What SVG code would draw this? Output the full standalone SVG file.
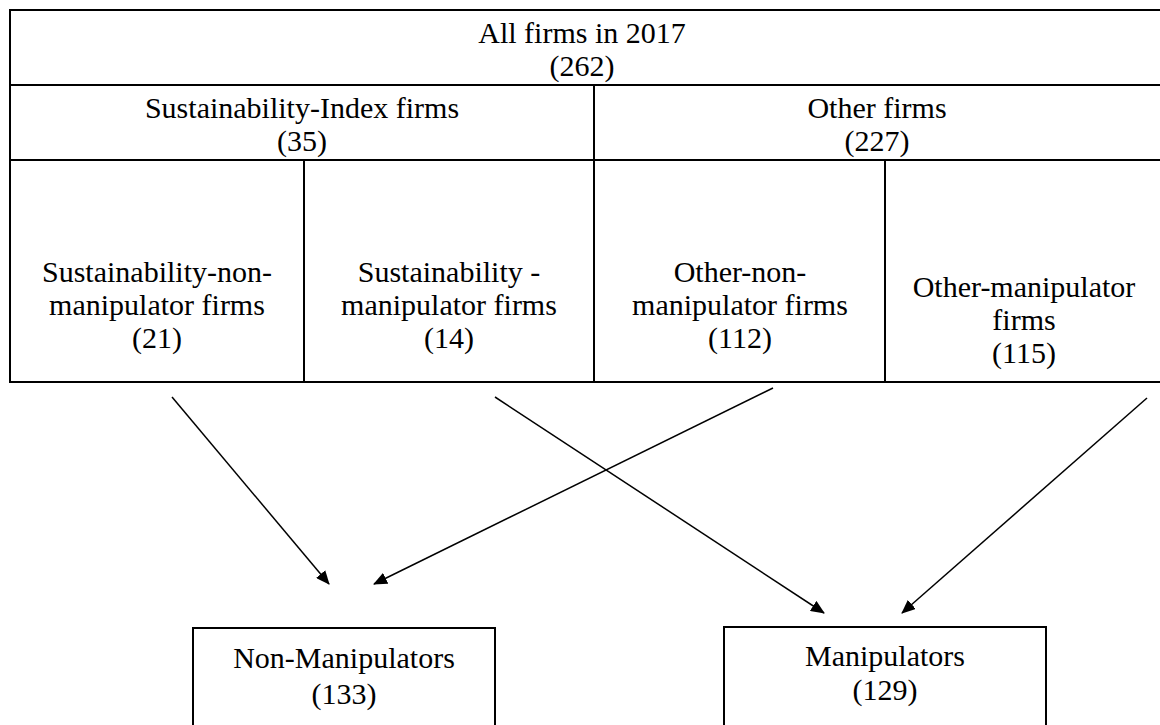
<svg xmlns="http://www.w3.org/2000/svg" width="1160" height="725" viewBox="0 0 1160 725">
<defs>
<style>
.t{font-family:"Liberation Serif","Times New Roman",serif;font-size:30px;fill:#000;text-anchor:middle}
.b{fill:none;stroke:#000;stroke-width:2}
.c{stroke:#000;stroke-width:1.5;fill:none}
</style>
<marker id="ah" markerWidth="14" markerHeight="12" refX="13" refY="6" orient="auto" markerUnits="userSpaceOnUse">
<path d="M0,0 L14,6 L0,12 Z" fill="#000"/>
</marker>
</defs>
<rect width="1160" height="725" fill="#fff"/>
<g id="all-firms">
<path class="b" d="M1162,10 H10 V382 H1162"/>
<text class="t" x="582" y="43">All firms in 2017</text>
<text class="t" x="582" y="76">(262)</text>
</g>
<g id="sustainability-index">
<path class="b" d="M10,85 H1162 M594,85 V382 M10,160 H1162"/>
<text class="t" x="302" y="118">Sustainability-Index firms</text>
<text class="t" x="302" y="151">(35)</text>
</g>
<g id="other-firms">
<text class="t" x="877" y="118">Other firms</text>
<text class="t" x="877" y="151">(227)</text>
</g>
<g id="sust-non-manip">
<path class="b" d="M304,160 V382"/>
<text class="t" x="157" y="282">Sustainability-non-</text>
<text class="t" x="157" y="315">manipulator firms</text>
<text class="t" x="157" y="348">(21)</text>
</g>
<g id="sust-manip">
<text class="t" x="449" y="282">Sustainability -</text>
<text class="t" x="449" y="315">manipulator firms</text>
<text class="t" x="449" y="348">(14)</text>
</g>
<g id="other-non-manip">
<path class="b" d="M885,160 V382"/>
<text class="t" x="740" y="282">Other-non-</text>
<text class="t" x="740" y="315">manipulator firms</text>
<text class="t" x="740" y="348">(112)</text>
</g>
<g id="other-manip">
<text class="t" x="1024" y="297">Other-manipulator</text>
<text class="t" x="1024" y="330">firms</text>
<text class="t" x="1024" y="363">(115)</text>
</g>
<g id="non-manipulators">
<path class="b" d="M193,727 V628 H495 V727"/>
<text class="t" x="344" y="668">Non-Manipulators</text>
<text class="t" x="344" y="704">(133)</text>
</g>
<g id="manipulators">
<path class="b" d="M724,727 V627 H1046 V727"/>
<text class="t" x="885" y="666">Manipulators</text>
<text class="t" x="885" y="700">(129)</text>
</g>
<g id="connectors">
<line class="c" x1="172" y1="397" x2="329" y2="584" marker-end="url(#ah)"/>
<line class="c" x1="773" y1="388" x2="374" y2="584" marker-end="url(#ah)"/>
<line class="c" x1="495" y1="397" x2="824" y2="613" marker-end="url(#ah)"/>
<line class="c" x1="1147" y1="398" x2="902" y2="613" marker-end="url(#ah)"/>
</g>
</svg>
